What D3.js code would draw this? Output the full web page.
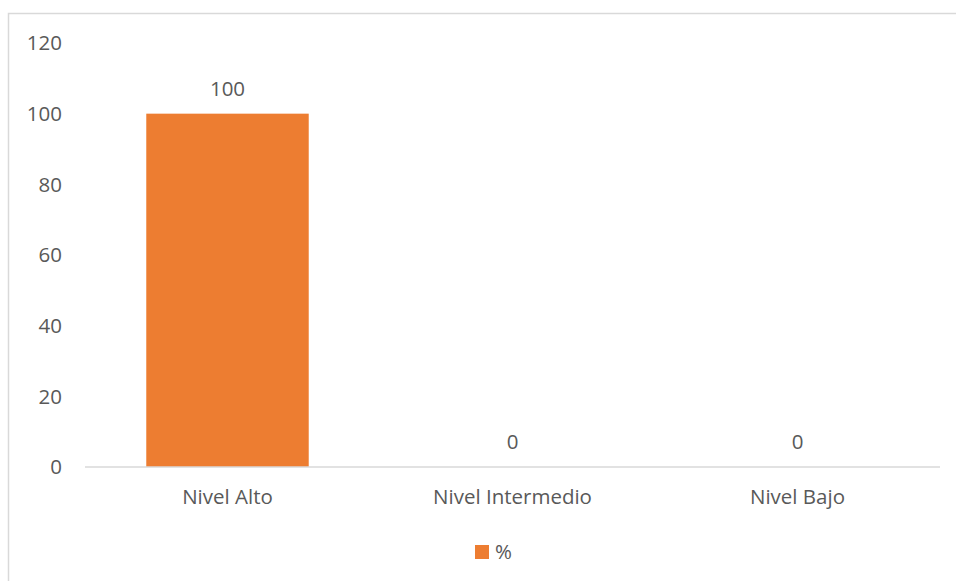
<!DOCTYPE html>
<html>
<head>
<meta charset="utf-8">
<script src="https://cdn.jsdelivr.net/npm/d3@7"></script>
<style>
	body { margin: 0; background: #fff; }
	text { font-family: "Open Sans", "Liberation Sans", Arial, sans-serif; fill: #595959; }
</style>
</head>
<body>
<div id="chart"></div>
<script>
var categories = ["Nivel Alto", "Nivel Intermedio", "Nivel Bajo"];
var values = [100, 0, 0];
var yTicks = [0, 20, 40, 60, 80, 100, 120];
var seriesName = "%";

var width = 956, height = 581;
var orange = "#ED7D31";
var fontSize = "20.5px";

var svg = d3.select("#chart").append("svg")
	.attr("width", width)
	.attr("height", height);

// chart frame (runs off the right and bottom edges)
svg.append("rect")
	.attr("x", 8.5).attr("y", 13.5)
	.attr("width", 970).attr("height", 600)
	.attr("fill", "#fff")
	.attr("stroke", "#d9d9d9")
	.attr("stroke-width", 1.5);

var x = d3.scaleBand()
	.domain(categories)
	.range([85, 940])
	.paddingInner(0.43)
	.paddingOuter(0.215);

var y = d3.scaleLinear()
	.domain([0, 120])
	.range([467, 43]);

// y labels
svg.selectAll(".ytick")
	.data(yTicks)
	.enter()
	.append("text")
	.attr("class", "ytick")
	.attr("x", 62)
	.attr("y", d => y(d))
	.attr("dy", "0.35em")
	.attr("text-anchor", "end")
	.style("font-size", fontSize)
	.text(d => d);

// bars
svg.selectAll(".bar")
	.data(values)
	.enter()
	.append("rect")
	.attr("class", "bar")
	.attr("x", (d, i) => x(categories[i]))
	.attr("y", d => y(d))
	.attr("width", x.bandwidth())
	.attr("height", d => y(0) - y(d))
	.attr("fill", orange);

// baseline
svg.append("line")
	.attr("x1", 85).attr("x2", 940)
	.attr("y1", y(0)).attr("y2", y(0))
	.attr("stroke", "#d9d9d9")
	.attr("stroke-width", 1.5);

// data labels
svg.selectAll(".vlabel")
	.data(values)
	.enter()
	.append("text")
	.attr("class", "vlabel")
	.attr("x", (d, i) => x(categories[i]) + x.bandwidth() / 2)
	.attr("y", d => y(d) - 18)
	.attr("text-anchor", "middle")
	.style("font-size", fontSize)
	.text(d => d);

// category labels
svg.selectAll(".xlabel")
	.data(categories)
	.enter()
	.append("text")
	.attr("class", "xlabel")
	.attr("x", d => x(d) + x.bandwidth() / 2)
	.attr("y", 504)
	.attr("text-anchor", "middle")
	.style("font-size", fontSize)
	.text(d => d);

// legend
var legend = svg.append("g").attr("transform", "translate(475, 545)");
legend.append("rect")
	.attr("width", 14).attr("height", 14)
	.attr("fill", orange);
legend.append("text")
	.attr("x", 20).attr("y", 14)
	.style("font-size", fontSize)
	.text(seriesName);
</script>
</body>
</html>
